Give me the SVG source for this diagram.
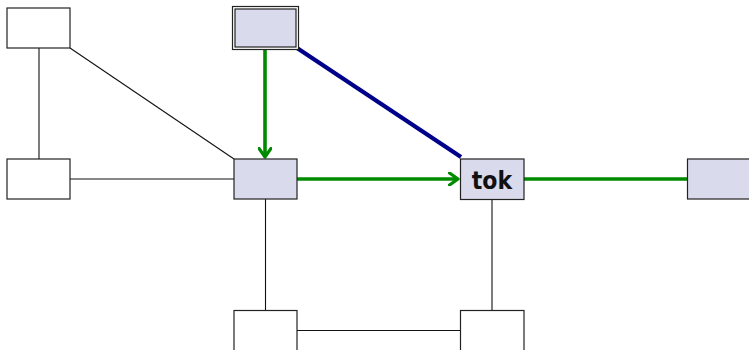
<svg xmlns="http://www.w3.org/2000/svg" width="749" height="350" viewBox="0 0 749 350">
<defs>
<style>
.n{fill:#fff;stroke:#222;stroke-width:1.2}
.f{fill:#d9daec;stroke:#222;stroke-width:1.2}
.e{fill:none;stroke:#111;stroke-width:1.1}
.g{fill:none;stroke:#008a00;stroke-width:3.6}
.b{fill:none;stroke:#00008a;stroke-width:4.2}
.t{font-family:"DejaVu Sans Condensed","DejaVu Sans",sans-serif;font-stretch:condensed;font-weight:bold;font-size:24.5px;fill:#111}
</style>
<marker id="ar" viewBox="0 0 12 14" refX="10.5" refY="7" markerWidth="12" markerHeight="14" markerUnits="userSpaceOnUse" orient="auto">
<path d="M2,1 L10.5,7 L2,13" fill="none" stroke="#008a00" stroke-width="3.2" stroke-linecap="round" stroke-linejoin="round"/>
</marker>
</defs>
<g id="connectors">
<line class="e" x1="39" y1="48" x2="39" y2="159"/>
<line class="e" x1="70" y1="48" x2="234" y2="159"/>
<line class="e" x1="70" y1="179" x2="234" y2="179"/>
<line class="e" x1="265.5" y1="199" x2="265.5" y2="310"/>
<line class="e" x1="492" y1="199" x2="492" y2="310"/>
<line class="e" x1="297" y1="330.5" x2="460" y2="330.5"/>
<line class="b" x1="297" y1="48" x2="461" y2="157"/>
<line class="g" x1="265" y1="50" x2="265" y2="157" marker-end="url(#ar)"/>
<line class="g" x1="297" y1="179" x2="458" y2="179" marker-end="url(#ar)"/>
<line class="g" x1="524" y1="179" x2="687" y2="179"/>
</g>
<g id="n1"><rect class="n" x="7" y="8" width="63" height="40"/></g>
<g id="n2"><rect class="n" x="7" y="159" width="63" height="40"/></g>
<g id="n3"><rect fill="#fff" stroke="#222" stroke-width="1.2" x="232.5" y="6.5" width="66" height="43"/><rect class="f" x="235" y="9" width="61" height="38"/></g>
<g id="n4"><rect class="f" x="234" y="159" width="63" height="40"/></g>
<g id="n5"><rect class="f" x="460.5" y="159" width="63.5" height="40.5"/><text class="t" x="492" y="189.3" text-anchor="middle">tok</text></g>
<g id="n6"><rect class="f" x="687.5" y="159" width="70" height="40"/></g>
<g id="n7"><rect class="n" x="234" y="310.5" width="63" height="50"/></g>
<g id="n8"><rect class="n" x="460.5" y="310.5" width="63.5" height="50"/></g>
</svg>
